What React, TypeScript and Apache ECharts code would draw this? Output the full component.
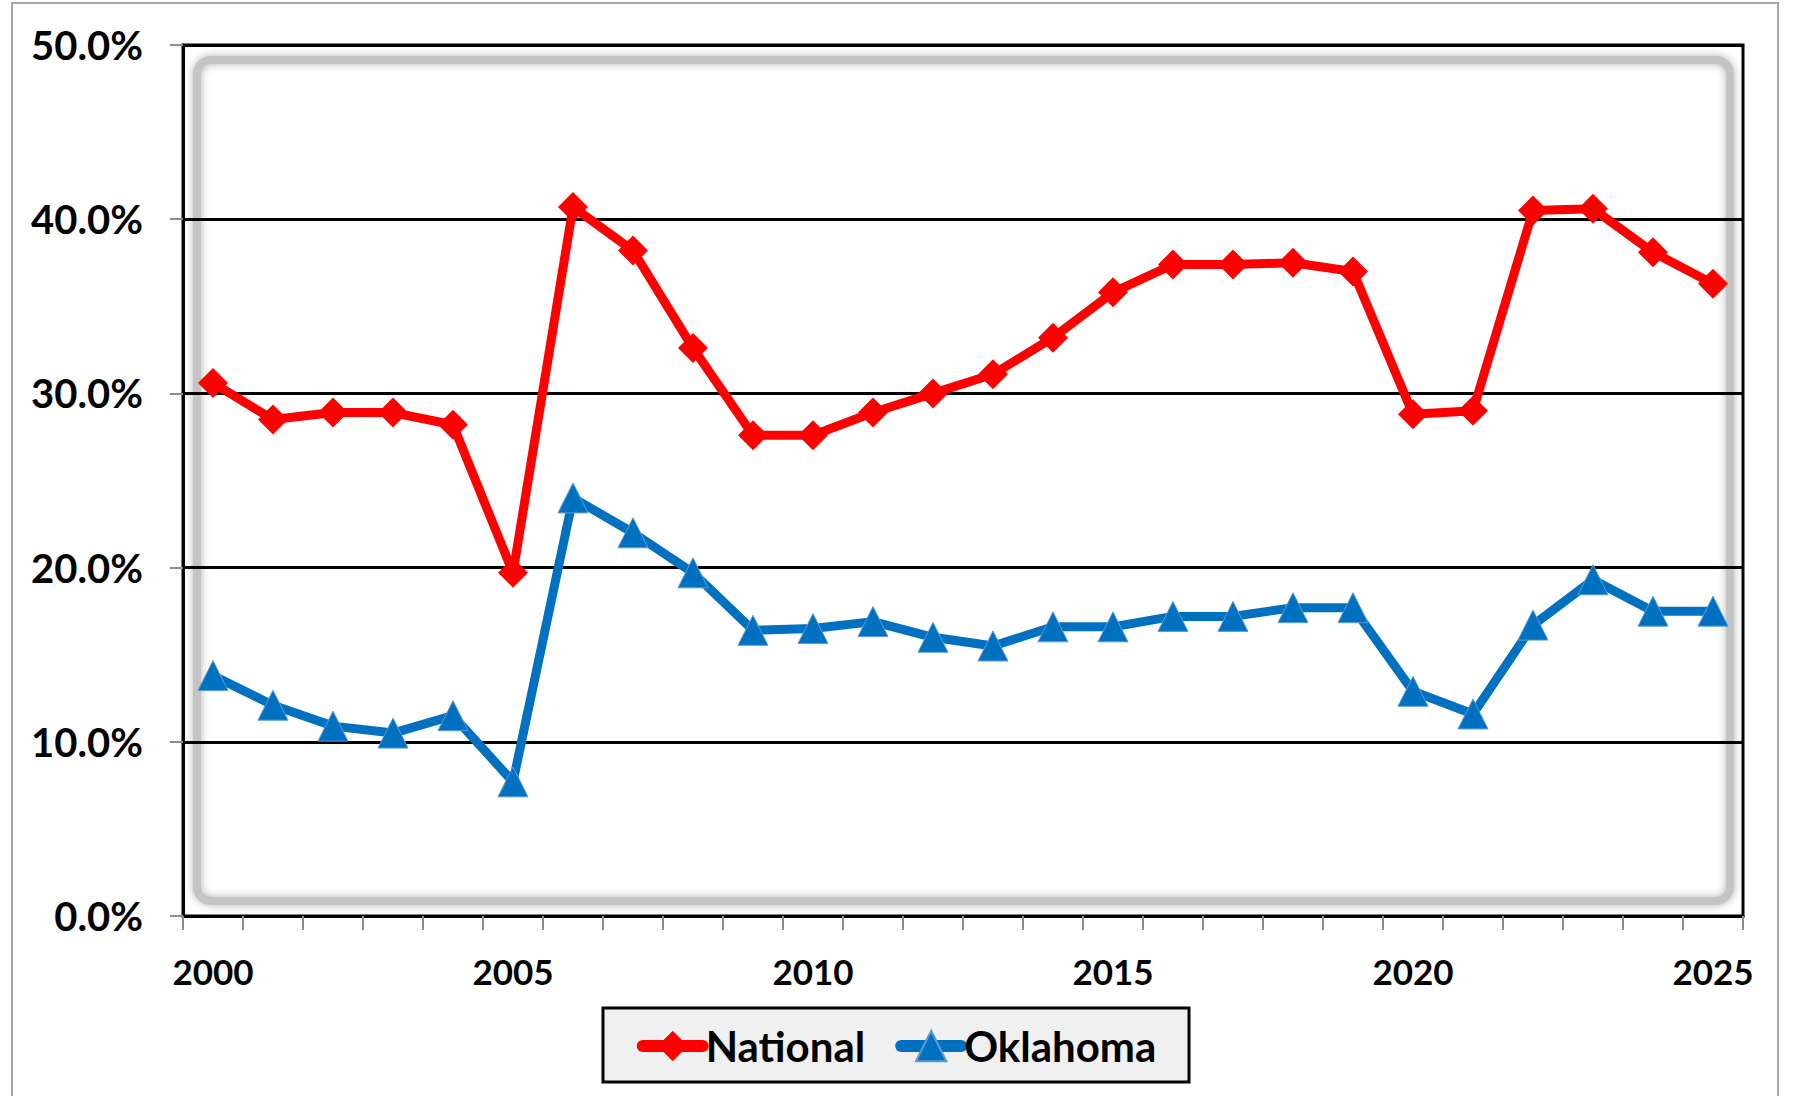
import React, { useEffect, useRef } from 'react';
import * as echarts from 'echarts';

const years: string[] = [
  '2000', '2001', '2002', '2003', '2004', '2005', '2006', '2007', '2008', '2009',
  '2010', '2011', '2012', '2013', '2014', '2015', '2016', '2017', '2018', '2019',
  '2020', '2021', '2022', '2023', '2024', '2025',
];

const national: number[] = [
  30.6, 28.5, 28.9, 28.9, 28.2, 19.7, 40.7, 38.2, 32.6, 27.6,
  27.6, 28.9, 30.0, 31.1, 33.2, 35.8, 37.4, 37.4, 37.5, 37.0,
  28.8, 29.0, 40.5, 40.6, 38.1, 36.3,
];

const oklahoma: number[] = [
  13.8, 12.1, 10.9, 10.5, 11.5, 7.7, 24.0, 22.0, 19.7, 16.4,
  16.5, 16.9, 16.0, 15.5, 16.6, 16.6, 17.2, 17.2, 17.7, 17.7,
  12.9, 11.6, 16.7, 19.3, 17.5, 17.5,
];

const yMin = 0;
const yMax = 50;
const yStep = 10;

const FONT = 'Lato, "Noto Sans", "DejaVu Sans", sans-serif';

export default function App() {
  const ref = useRef<HTMLDivElement>(null);

  useEffect(() => {
    if (!ref.current) return;
    const chart = echarts.init(ref.current, undefined, { renderer: 'svg' });
    const W = 1793;
    const H = 1096;
    const gl = 183, gr = 1743, gt = 45, gb = 916;
    chart.setOption({
      animation: false,
      backgroundColor: '#ffffff',
      grid: {
        left: gl,
        right: W - gr,
        top: gt,
        bottom: H - gb,
        show: true,
        borderColor: '#000000',
        borderWidth: 3,
        backgroundColor: 'transparent',
        containLabel: false,
      },
      graphic: [
        {
          type: 'rect',
          z: -10,
          silent: true,
          shape: { x: 12, y: 3, width: 1766, height: 1110 },
          style: { fill: 'none', stroke: '#a6a6a6', lineWidth: 2 },
        },
        {
          type: 'rect',
          z: -5,
          silent: true,
          shape: { x: gl + 14, y: gt + 15, width: gr - gl - 27, height: gb - gt - 30, r: 14 },
          style: {
            fill: 'none',
            stroke: '#c4c4c4',
            lineWidth: 8,
            shadowBlur: 8,
            shadowColor: 'rgba(130,130,130,0.6)',
          },
        },
        {
          type: 'rect',
          z: 1,
          silent: true,
          shape: { x: 603, y: 1008, width: 586, height: 74 },
          style: { fill: '#f0f0f0', stroke: '#000000', lineWidth: 3 },
        },
      ],
      legend: {
        show: true,
        z: 10,
        left: 'center',
        top: 1025,
        itemWidth: 60,
        itemHeight: 38,
        itemGap: 30,
        padding: 0,
        textStyle: {
          fontFamily: FONT,
          fontWeight: 'bold',
          fontSize: 42,
          color: '#000000',
          padding: [0, 0, 0, -2],
        },
        lineStyle: { width: 12, cap: 'round' },
        data: ['National', 'Oklahoma'],
      },
      xAxis: {
        type: 'category',
        data: years,
        boundaryGap: true,
        axisLine: { show: true, lineStyle: { color: '#000000', width: 3 } },
        axisTick: {
          show: true,
          interval: 0,
          length: 14,
          lineStyle: { color: '#8c8c8c', width: 2 },
        },
        axisLabel: {
          interval: (idx: number) => idx % 5 === 0,
          margin: 37,
          fontFamily: FONT,
          fontWeight: 'bold',
          fontSize: 35,
          color: '#000000',
        },
        splitLine: { show: false },
      },
      yAxis: {
        type: 'value',
        min: yMin,
        max: yMax,
        interval: yStep,
        axisLine: { show: true, lineStyle: { color: '#000000', width: 3 } },
        axisTick: {
          show: true,
          length: 13,
          lineStyle: { color: '#8c8c8c', width: 2 },
        },
        axisLabel: {
          margin: 40,
          fontFamily: FONT,
          fontWeight: 'bold',
          fontSize: 40,
          color: '#000000',
          formatter: (v: number) => v.toFixed(1) + '%',
        },
        splitLine: { show: true, lineStyle: { color: '#000000', width: 3 } },
      },
      series: [
        {
          name: 'National',
          type: 'line',
          data: national,
          symbol: 'diamond',
          symbolSize: 30,
          z: 3,
          lineStyle: { color: '#ff0000', width: 9, cap: 'round', join: 'round' },
          itemStyle: { color: '#ff0000' },
        },
        {
          name: 'Oklahoma',
          type: 'line',
          data: oklahoma,
          symbol: 'triangle',
          symbolSize: 30,
          z: 3,
          lineStyle: { color: '#0070c0', width: 9, cap: 'round', join: 'round' },
          itemStyle: { color: '#0070c0', borderColor: '#5b9bd5', borderWidth: 1 },
        },
      ],
    });
    return () => chart.dispose();
  }, []);

  return (
    <div
      ref={ref}
      style={{ position: 'fixed', left: 0, top: 0, width: '1793px', height: '1096px' }}
    />
  );
}
